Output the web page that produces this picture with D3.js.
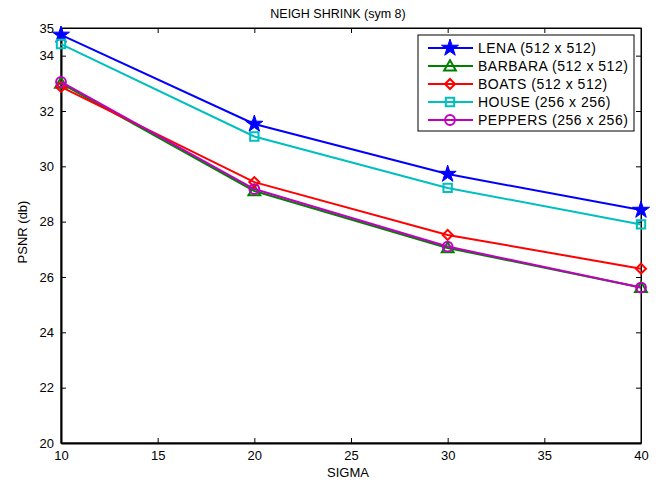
<!DOCTYPE html>
<html>
<head>
<meta charset="utf-8">
<script src="https://cdn.jsdelivr.net/npm/d3@7"></script>
<style>
  body { margin: 0; background: #fff; }
  svg { display: block; font-family: "Liberation Sans", Arial, sans-serif; }
</style>
</head>
<body>
<svg id="chart" width="662" height="483"></svg>
<script>
// Noise levels (sigma) and PSNR results for each test image
const sigmas = [10, 20, 30, 40];
const lena    = [34.75, 31.53, 29.72, 28.42];
const barbara = [33.00, 29.11, 27.05, 25.62];
const boats   = [32.87, 29.43, 27.52, 26.30];
const house   = [34.42, 31.08, 29.22, 27.90];
const peppers = [33.05, 29.18, 27.10, 25.62];

const seriesNames = ["LENA (512 x 512)", "BARBARA (512 x 512)", "BOATS (512 x 512)", "HOUSE (256 x 256)", "PEPPERS (256 x 256)"];
const seriesColors = ["#0000ff", "#008000", "#ff0000", "#00bfbf", "#bf00bf"];
const seriesMarkers = ["star", "triangle", "diamond", "square", "circle"];
const seriesValues = [lena, barbara, boats, house, peppers];

const xTicks = [10, 15, 20, 25, 30, 35, 40];
const yTicks = [20, 22, 24, 26, 28, 30, 32, 34, 35];

const svg = d3.select("#chart");
const mLeft = 61, mRight = 641, mTop = 28, mBottom = 443;

const x = d3.scaleLinear().domain([10, 40]).range([mLeft, mRight]);
const y = d3.scaleLinear().domain([20, 35]).range([mBottom, mTop]);

// plot box
svg.append("rect").attr("x", mLeft).attr("y", mTop)
  .attr("width", mRight - mLeft).attr("height", mBottom - mTop)
  .attr("fill", "#fff").attr("stroke", "#000").attr("stroke-width", 1);

// axes with inward ticks
const tl = 5;
const gx = svg.append("g").attr("transform", `translate(0,${mBottom})`)
  .call(d3.axisBottom(x).tickValues(xTicks).tickSizeInner(-tl).tickSizeOuter(0).tickPadding(8));
const gxt = svg.append("g").attr("transform", `translate(0,${mTop})`)
  .call(d3.axisTop(x).tickValues(xTicks).tickSizeInner(-tl).tickSizeOuter(0).tickFormat(""));
const gy = svg.append("g").attr("transform", `translate(${mLeft},0)`)
  .call(d3.axisLeft(y).tickValues(yTicks).tickSizeInner(-tl).tickSizeOuter(0).tickPadding(7));
const gyr = svg.append("g").attr("transform", `translate(${mRight},0)`)
  .call(d3.axisRight(y).tickValues(yTicks).tickSizeInner(-tl).tickSizeOuter(0).tickFormat(""));

[gx, gxt, gy, gyr].forEach(g => {
  g.select(".domain").attr("stroke", "#000").attr("stroke-width", 2);
  g.selectAll(".tick line").attr("stroke", "#000");
  g.selectAll(".tick text").attr("fill", "#000").attr("font-size", 13)
    .attr("font-family", "Liberation Sans, Arial, sans-serif");
});
gxt.select(".domain").attr("stroke-width", 1);
gyr.select(".domain").attr("stroke-width", 1);

// titles
svg.append("text").attr("x", 338).attr("y", 18)
  .attr("text-anchor", "middle").attr("font-size", 12.5).text("NEIGH SHRINK (sym 8)");
svg.append("text").attr("x", 348).attr("y", 477)
  .attr("text-anchor", "middle").attr("font-size", 13).text("SIGMA");
svg.append("text").attr("transform", `translate(27,232) rotate(-90)`)
  .attr("text-anchor", "middle").attr("font-size", 13).text("PSNR (db)");

const symbolFor = {
  star: d3.symbol().type(d3.symbolStar).size(90),
  triangle: d3.symbol().type(d3.symbolTriangle).size(60),
  diamond: d3.symbol().type(d3.symbolSquare).size(50),
  square: d3.symbol().type(d3.symbolSquare).size(70),
  circle: d3.symbol().type(d3.symbolCircle).size(75)
};

function drawMarker(g, kind, color, cx, cy) {
  let tf = `translate(${cx},${cy})`;
  if (kind === "triangle") tf += " translate(0,1)";
  if (kind === "diamond") tf += " rotate(45)";
  const p = g.append("path").attr("d", symbolFor[kind]())
    .attr("transform", tf)
    .attr("stroke", color).attr("stroke-width", 2);
  if (kind === "star") p.attr("fill", color).attr("stroke-width", 1);
  else p.attr("fill", "none");
}

const line = d3.line().x(d => x(d[0])).y(d => y(d[1]));
const plot = svg.append("g");
seriesValues.forEach((vals, i) => {
  const pts = sigmas.map((s, j) => [s, vals[j]]);
  plot.append("path").datum(pts).attr("d", line)
    .attr("fill", "none").attr("stroke", seriesColors[i]).attr("stroke-width", 2);
  pts.forEach(p => drawMarker(plot, seriesMarkers[i], seriesColors[i], x(p[0]), y(p[1])));
});

// legend
const lg = svg.append("g");
lg.append("rect").attr("x", 418).attr("y", 35).attr("width", 216).attr("height", 96)
  .attr("fill", "#fff").attr("stroke", "#000").attr("stroke-width", 1);
seriesNames.forEach((name, i) => {
  const yy = 48 + i * 18;
  lg.append("line").attr("x1", 428).attr("x2", 473).attr("y1", yy).attr("y2", yy)
    .attr("stroke", seriesColors[i]).attr("stroke-width", 2);
  drawMarker(lg, seriesMarkers[i], seriesColors[i], 450, yy);
  lg.append("text").attr("x", 478).attr("y", yy + 5).attr("font-size", 14)
    .attr("letter-spacing", 0.5).text(name);
});
</script>
</body>
</html>
